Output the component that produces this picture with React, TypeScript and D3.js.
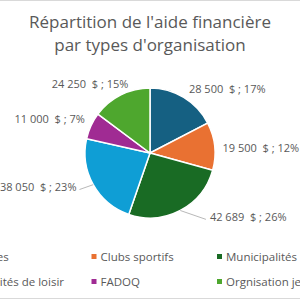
import React, { useEffect, useRef } from 'react';
import * as d3 from 'd3';

const categories = ['Écoles', 'Clubs sportifs', 'Municipalités', 'Comités de loisir', 'FADOQ', 'Orgnisation jeunesse'];
const amounts = [28500, 19500, 42689, 38050, 11000, 24250];
const colors = ['#156082', '#E97132', '#196B24', '#0F9ED5', '#A02B93', '#4EA72E'];
const titleLines = ["Répartition de l'aide financière", "par types d'organisation"];

// small nudges for the data labels (Excel "best fit" placement)
const labelNudge: [number, number][] = [[0, 0], [-2, 3], [25, -2], [-8, -2], [3, -3], [12, -2]];
const hasLeader = [false, false, true, true, false, false];

const fmt = (v: number) => d3.format(',')(v).replace(/,/g, '\u00a0');

const PieChart: React.FC = () => {
  const svgRef = useRef<SVGSVGElement>(null);

  useEffect(() => {
    if (!svgRef.current) return;
    const width = 300;
    const height = 300;
    const cx = 150;
    const cy = 153;
    const radius = 65;
    const font = "'Open Sans', 'Liberation Sans', sans-serif";

    const svg = d3.select(svgRef.current)
      .attr('width', width)
      .attr('height', height)
      .html('');

    svg.append('rect')
      .attr('x', -10).attr('y', 0.5)
      .attr('width', width + 20).attr('height', height - 2)
      .attr('fill', '#fff')
      .attr('stroke', '#d9d9d9');

    svg.append('g')
      .selectAll('text')
      .data(titleLines)
      .join('text')
      .attr('x', width / 2)
      .attr('y', (_, i) => 28 + i * 23)
      .attr('text-anchor', 'middle')
      .style('font-family', font)
      .style('font-size', '17px')
      .attr('fill', '#595959')
      .text(d => d);

    const total = d3.sum(amounts);
    const pie = d3.pie<number>().sort(null).value(d => d);
    const arcs = pie(amounts);
    const arc = d3.arc<d3.PieArcDatum<number>>().innerRadius(0).outerRadius(radius);
    const labelArc = d3.arc<d3.PieArcDatum<number>>().innerRadius(radius + 10).outerRadius(radius + 10);
    const edgeArc = d3.arc<d3.PieArcDatum<number>>().innerRadius(radius).outerRadius(radius);

    const g = svg.append('g').attr('transform', `translate(${cx},${cy})`);

    g.selectAll('path.slice')
      .data(arcs)
      .join('path')
      .attr('class', 'slice')
      .attr('d', arc)
      .attr('fill', (_, i) => colors[i])
      .attr('stroke', '#fff')
      .attr('stroke-width', 1.5);

    arcs.forEach((a, i) => {
      const mid = (a.startAngle + a.endAngle) / 2;
      const [lx, ly] = labelArc.centroid(a);
      const x = lx + labelNudge[i][0];
      const y = ly + labelNudge[i][1];
      const right = Math.sin(mid) > 0;
      if (hasLeader[i]) {
        const [ex, ey] = edgeArc.centroid(a);
        const endX = right ? x - 4 : x + 3;
        g.append('path')
          .attr('d', d3.line()([[ex, ey], [endX, y + 2]]))
          .attr('fill', 'none')
          .attr('stroke', '#a6a6a6')
          .attr('stroke-width', 0.8);
      }
      g.append('text')
        .attr('x', x)
        .attr('y', y)
        .attr('dy', '0.35em')
        .attr('text-anchor', right ? 'start' : 'end')
        .style('font-family', font)
        .style('font-size', '11px')
        .attr('fill', '#595959')
        .text(`${fmt(a.data)}\u00a0\u00a0$ ; ${Math.round((a.data / total) * 100)}%`);
    });

    const legend = svg.append('g');
    categories.forEach((c, i) => {
      const col = i % 3;
      const row = Math.floor(i / 3);
      const x = -34 + col * 125.5;
      const y = 257 + row * 25;
      legend.append('rect')
        .attr('x', x).attr('y', y - 3)
        .attr('width', 5).attr('height', 5)
        .attr('fill', colors[i]);
      legend.append('text')
        .attr('x', x + 9)
        .attr('y', y)
        .attr('dy', '0.35em')
        .style('font-family', font)
        .style('font-size', '11.5px')
        .attr('fill', '#595959')
        .text(c);
    });
  }, []);

  return (
    <div style={{ position: 'fixed', left: 0, top: 0 }}>
      <svg ref={svgRef} style={{ display: 'block' }}></svg>
    </div>
  );
};

export default function App() {
  return <PieChart />;
}
